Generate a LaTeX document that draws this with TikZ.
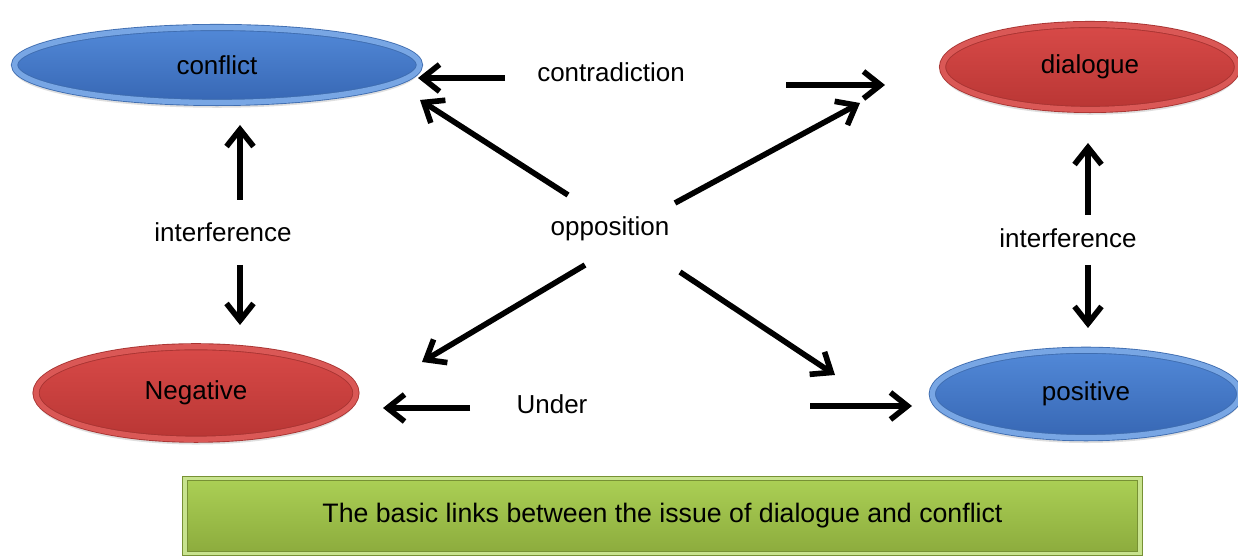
\documentclass[tikz,border=0pt]{standalone}
\usepackage{fontspec}
\setmainfont{Liberation Sans}
\usetikzlibrary{arrows.meta,shapes.geometric,shadows}

\definecolor{bluefillA}{HTML}{5289D8}
\definecolor{bluefillB}{HTML}{3767B4}
\definecolor{bluerim}{HTML}{78A6E4}
\definecolor{blueedge}{HTML}{3F6DB0}
\definecolor{redfillA}{HTML}{D84A48}
\definecolor{redfillB}{HTML}{B93634}
\definecolor{redrim}{HTML}{DA5856}
\definecolor{rededge}{HTML}{A83432}
\definecolor{greenA}{HTML}{ABD055}
\definecolor{greenB}{HTML}{8CAB3D}
\definecolor{greenrim}{HTML}{C8E38E}

\tikzset{
  oval/.style={ellipse,font=\fontsize{14.8}{18}\selectfont,text=black,
    line width=0.5pt,double distance=3pt,
    drop shadow={opacity=0.25,shadow xshift=0pt,shadow yshift=-3pt}},
  bluebox/.style={oval,top color=bluefillA,bottom color=bluefillB,draw=blueedge,double=bluerim},
  redbox/.style={oval,top color=redfillA,bottom color=redfillB,draw=rededge,double=redrim},
  lbl/.style={font=\fontsize{14.8}{18}\selectfont},
  arr/.style={line width=3.2pt,-{Straight Barb[length=3.4mm,width=5.4mm]}}
}

\begin{document}
\begin{tikzpicture}
\useasboundingbox (0,0) rectangle (24.76,11.12);
\fill[white] (0,0) rectangle (24.76,11.12);

% the four concepts
\node[bluebox,minimum width=8.1cm,minimum height=1.5cm] (conflict) at (4.34,9.82) {conflict};
\node[redbox,minimum width=5.9cm,minimum height=1.7cm] (dialogue) at (21.8,9.78) {dialogue};
\node[redbox,minimum width=6.4cm,minimum height=1.85cm] (negative) at (3.92,3.26) {Negative};
\node[bluebox,minimum width=6.15cm,minimum height=1.75cm] (positive) at (21.72,3.24) {positive};

% relation labels
\node[lbl] (contra) at (12.22,9.68) {contradiction};
\node[lbl] (opp) at (12.2,6.54) {opposition};
\node[lbl] (intl) at (4.46,6.48) {interference};
\node[lbl] (intr) at (21.36,6.36) {interference};
\node[lbl] (under) at (11.04,3.04) {Under};

% arrow ends
\coordinate (s1) at (10.1,9.56);   \coordinate (e1) at (8.36,9.56);
\coordinate (s2) at (15.72,9.42);  \coordinate (e2) at (17.7,9.42);
\coordinate (s3) at (11.36,7.22);  \coordinate (e3) at (8.4,9.12);
\coordinate (s4) at (13.5,7.06);   \coordinate (e4) at (17.2,9.06);
\coordinate (s5) at (11.7,5.82);   \coordinate (e5) at (8.44,3.88);
\coordinate (s6) at (13.6,5.68);   \coordinate (e6) at (16.7,3.62);
\coordinate (s7) at (4.8,7.12);    \coordinate (e7) at (4.8,8.62);
\coordinate (s8) at (4.8,5.82);    \coordinate (e8) at (4.8,4.62);
\coordinate (s9) at (21.76,6.82);  \coordinate (e9) at (21.76,8.26);
\coordinate (s10) at (21.76,5.82); \coordinate (e10) at (21.76,4.56);
\coordinate (s11) at (9.4,2.96);   \coordinate (e11) at (7.66,2.96);
\coordinate (s12) at (16.2,3.0);   \coordinate (e12) at (18.24,3.0);
\foreach \i in {1,...,12}{\draw[arr] (s\i) -- (e\i);}

% caption box
\node[rectangle,minimum width=19.1cm,minimum height=1.5cm,top color=greenA,bottom color=greenB,
  draw=greenB!85!black,double=greenrim,double distance=2pt,line width=0.5pt,
  font=\fontsize{15.2}{18}\selectfont] (caption) at (13.25,0.8)
  {The basic links between the issue of dialogue and conflict};
\end{tikzpicture}
\end{document}
